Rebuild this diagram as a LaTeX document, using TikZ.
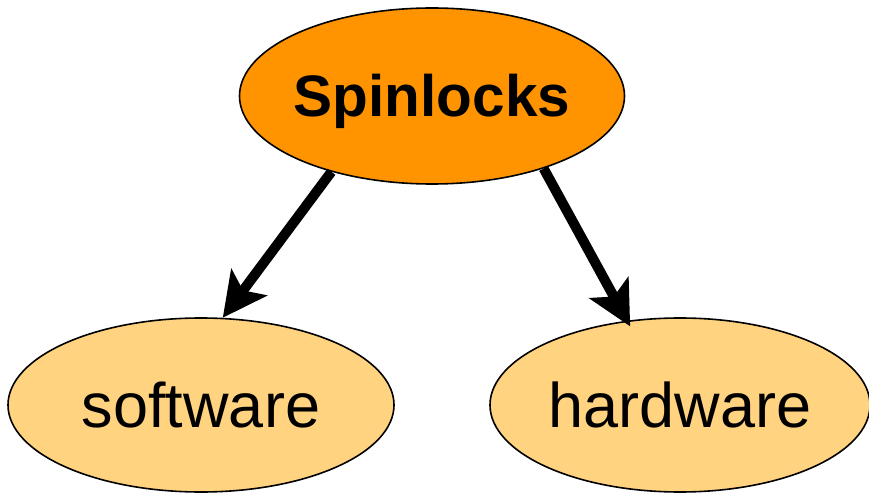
\documentclass[tikz,border=0pt]{standalone}
\usepackage{fontspec}
\setmainfont{Liberation Sans}
\usetikzlibrary{shapes.geometric,arrows.meta}
\definecolor{topfill}{HTML}{FF9400}
\definecolor{leaffill}{HTML}{FFD37F}
\tikzset{
  bubble/.style={ellipse, draw=black, line width=1.6pt, inner sep=0pt},
  link/.style={line width=10pt, -{Stealth[length=44pt, width=44pt, inset=10pt]}}
}
\begin{document}
\begin{tikzpicture}[x=1pt, y=-1pt]
  \useasboundingbox (0,0) rectangle (869,494);
  \node[bubble, fill=topfill, minimum width=385pt, minimum height=176pt] (root) at (432,96) {};
  \node[font=\fontsize{58.5}{60}\selectfont\bfseries, inner sep=0pt] (roottext) at (432,101.5) {Spinlocks};
  \node[bubble, fill=leaffill, minimum width=386pt, minimum height=174pt,
        font=\fontsize{63}{64}\selectfont] (sw) at (201,405) {software};
  \node[bubble, fill=leaffill, minimum width=380pt, minimum height=174pt,
        font=\fontsize{63}{64}\selectfont] (hw) at (680,405) {hardware};
  \draw[link] (root.217) -- (sw.76);
  \draw[link] (root.-33) -- ([shift={(1pt,-6pt)}]hw.121);
\end{tikzpicture}
\end{document}
